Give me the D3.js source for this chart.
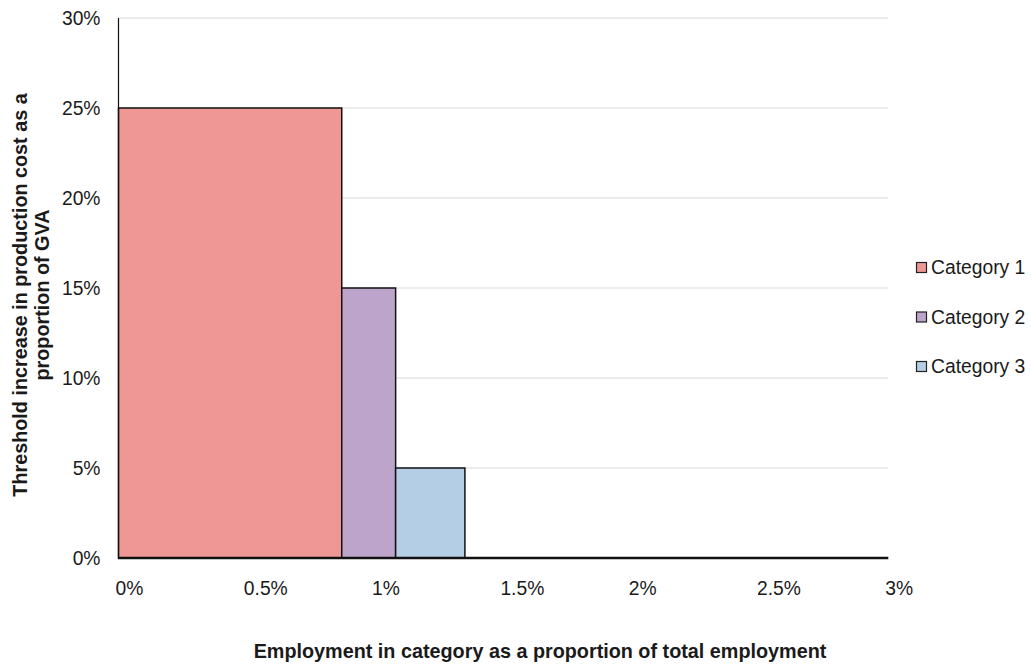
<!DOCTYPE html>
<html>
<head>
<meta charset="utf-8">
<script src="https://cdn.jsdelivr.net/npm/d3@7"></script>
<style>
  html, body { margin: 0; padding: 0; background: #fff; }
  svg { display: block; font-family: "Liberation Sans", Arial, sans-serif; }
</style>
</head>
<body>
<svg id="chart" width="1031" height="665"></svg>
<script>
// Categories, their share of total employment (%) and threshold cost increase (% of GVA)
const categories = ["Category 1", "Category 2", "Category 3"];
const employmentShare = [0.87, 0.21, 0.27];
const thresholdIncrease = [25, 15, 5];
const colors = ["#EF9794", "#BCA4CB", "#B4CEE5"];

const xTicks = [0, 0.5, 1, 1.5, 2, 2.5, 3];
const xTickLabels = ["0%", "0.5%", "1%", "1.5%", "2%", "2.5%", "3%"];
const yTicks = [0, 5, 10, 15, 20, 25, 30];
const yTickLabels = ["0%", "5%", "10%", "15%", "20%", "25%", "30%"];

const svg = d3.select("#chart");
const plot = { left: 118.5, right: 888.3, top: 18, bottom: 558 };

const x = d3.scaleLinear().domain([0, 3]).range([plot.left, plot.right]);
const y = d3.scaleLinear().domain([0, 30]).range([plot.bottom, plot.top]);

// Bars sit side by side: each starts where the previous one ends
let start = 0;
const bars = categories.map((c, i) => {
  const b = { name: c, x0: start, x1: start + employmentShare[i], v: thresholdIncrease[i], color: colors[i] };
  start += employmentShare[i];
  return b;
});

// Horizontal gridlines
svg.append("g")
  .selectAll("line")
  .data(yTicks.filter(d => d > 0))
  .join("line")
  .attr("x1", plot.left).attr("x2", plot.right)
  .attr("y1", d => y(d)).attr("y2", d => y(d))
  .attr("stroke", "#d9d9d9").attr("stroke-width", 1.2);

// Bars
svg.append("g")
  .selectAll("rect")
  .data(bars)
  .join("rect")
  .attr("x", d => x(d.x0))
  .attr("y", d => y(d.v))
  .attr("width", d => x(d.x1) - x(d.x0))
  .attr("height", d => y(0) - y(d.v))
  .attr("fill", d => d.color)
  .attr("stroke", "#111")
  .attr("stroke-width", 1.5);

// Y axis line
svg.append("line")
  .attr("x1", plot.left).attr("x2", plot.left)
  .attr("y1", plot.top).attr("y2", plot.bottom)
  .attr("stroke", "#111").attr("stroke-width", 1.2);

// X axis baseline
svg.append("line")
  .attr("x1", plot.left - 0.5).attr("x2", plot.right)
  .attr("y1", plot.bottom).attr("y2", plot.bottom)
  .attr("stroke", "#111").attr("stroke-width", 2.6);

// Y tick labels
svg.append("g")
  .selectAll("text")
  .data(yTicks)
  .join("text")
  .attr("x", 100.5)
  .attr("y", d => y(d))
  .attr("dy", "0.35em")
  .attr("text-anchor", "end")
  .attr("font-size", 19.3)
  .attr("fill", "#1a1a1a")
  .text((d, i) => yTickLabels[i]);

// X tick labels
svg.append("g")
  .selectAll("text")
  .data(xTicks)
  .join("text")
  .attr("x", d => x(d) - 3)
  .attr("y", 594.5)
  .attr("text-anchor", "start")
  .attr("font-size", 19.3)
  .attr("fill", "#1a1a1a")
  .text((d, i) => xTickLabels[i]);

// X axis title
svg.append("text")
  .attr("x", 540)
  .attr("y", 658)
  .attr("text-anchor", "middle")
  .attr("font-size", 19.8)
  .attr("font-weight", "bold")
  .attr("fill", "#1a1a1a")
  .text("Employment in category as a proportion of total employment");

// Y axis title (two lines, rotated)
const yTitle = svg.append("text")
  .attr("transform", "translate(0,295) rotate(-90)")
  .attr("text-anchor", "middle")
  .attr("font-size", 19.8)
  .attr("font-weight", "bold")
  .attr("fill", "#1a1a1a");
yTitle.append("tspan").attr("x", 0).attr("y", 27).text("Threshold increase in production cost as a");
yTitle.append("tspan").attr("x", 0).attr("y", 48.5).text("proportion of GVA");

// Legend
const legend = svg.append("g")
  .selectAll("g")
  .data(bars)
  .join("g")
  .attr("transform", (d, i) => `translate(916.5, ${267.5 + i * 49.5})`);
legend.append("rect")
  .attr("x", 0).attr("y", -5)
  .attr("width", 10).attr("height", 10)
  .attr("fill", d => d.color)
  .attr("stroke", "#222").attr("stroke-width", 1.2);
legend.append("text")
  .attr("x", 14.5)
  .attr("y", 0)
  .attr("dy", "0.35em")
  .attr("font-size", 19.3)
  .attr("fill", "#1a1a1a")
  .text(d => d.name);
</script>
</body>
</html>
